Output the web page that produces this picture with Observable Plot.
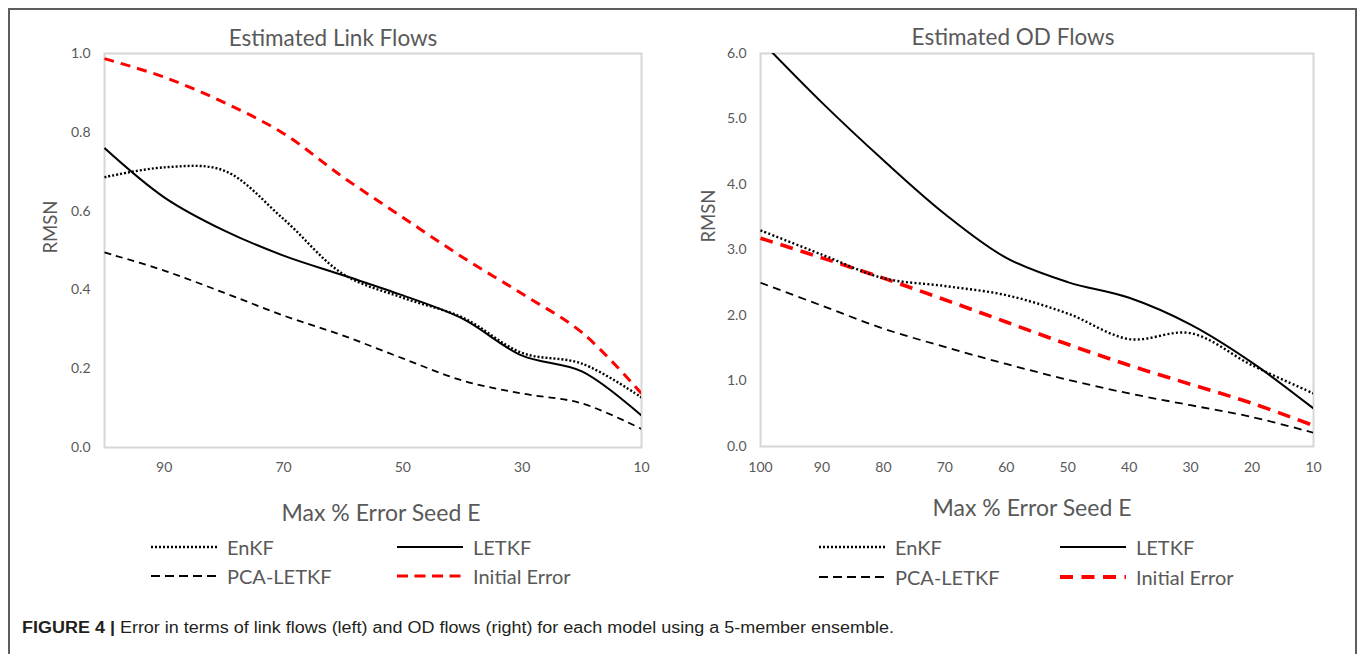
<!DOCTYPE html>
<html>
<head>
<meta charset="utf-8">
<script src="https://cdn.jsdelivr.net/npm/d3@7"></script>
<script src="https://cdn.jsdelivr.net/npm/@observablehq/plot@0.6"></script>
<style>
  html, body { margin: 0; padding: 0; background: #fff; }
  body { width: 1358px; height: 654px; position: relative; overflow: hidden; font-family: Lato, "Open Sans", sans-serif; }
  .box { position: absolute; left: 8px; top: 8px; width: 1345px; height: 700px; border-left: 2px solid #5e5e5e; border-top: 2px solid #5e5e5e; border-right: 2px solid #5e5e5e; }
  .abs { position: absolute; white-space: nowrap; color: #595959; font-family: Lato, sans-serif; }
  .panel { position: absolute; top: 0; }
  .caption { position: absolute; left: 22px; top: 620px; font-family: "Liberation Sans Narrow", "Liberation Sans", Arial, sans-serif; font-size: 16px; line-height: 16px; color: #231f20; white-space: nowrap; transform-origin: 0 0; }
</style>
</head>
<body>
<div class="box"></div>
<div id="left" class="panel" style="left:0px"></div>
<div id="right" class="panel" style="left:680px"></div>
<div id="overlay"></div>
<div class="caption" id="caption"><b>FIGURE 4 |</b> Error in terms of link flows (left) and OD flows (right) for each model using a 5-member ensemble.</div>
<script>
// ---------- data ----------
const seedLevels = [100, 90, 80, 70, 60, 50, 40, 30, 20, 10];
const seriesNames = ["EnKF", "LETKF", "PCA-LETKF", "Initial Error"];

// Estimated Link Flows (RMSN)
const linkEnKF    = [0.686, 0.711, 0.703, 0.580, 0.440, 0.380, 0.330, 0.240, 0.213, 0.127];
const linkLETKF   = [0.760, 0.635, 0.551, 0.487, 0.437, 0.386, 0.327, 0.233, 0.193, 0.081];
const linkPCA     = [0.495, 0.449, 0.393, 0.335, 0.284, 0.226, 0.170, 0.137, 0.112, 0.047];
const linkInitial = [0.987, 0.940, 0.876, 0.797, 0.686, 0.584, 0.483, 0.390, 0.292, 0.137];

// Estimated OD Flows (RMSN)
const odEnKF    = [3.30, 2.93, 2.57, 2.45, 2.31, 2.03, 1.64, 1.73, 1.24, 0.81];
const odLETKF   = [6.20, 5.25, 4.37, 3.55, 2.88, 2.51, 2.27, 1.86, 1.28, 0.58];
const odPCA     = [2.50, 2.15, 1.80, 1.52, 1.26, 1.02, 0.81, 0.63, 0.45, 0.21];
const odInitial = [3.18, 2.88, 2.57, 2.24, 1.90, 1.56, 1.24, 0.95, 0.66, 0.32];

const linkXTicks = [90, 70, 50, 30, 10];
const linkYTicks = [0, 0.2, 0.4, 0.6, 0.8, 1.0];
const odXTicks = [100, 90, 80, 70, 60, 50, 40, 30, 20, 10];
const odYTicks = [0, 1, 2, 3, 4, 5, 6];

const linkTitle = "Estimated Link Flows";
const odTitle = "Estimated OD Flows";
const xTitle = "Max % Error Seed E";
const yTitle = "RMSN";

// ---------- helpers ----------
function toRows(values) { return seedLevels.map((s, i) => ({ seed: s, v: values[i] })); }

function makePanel(opts) {
  const { width, mLeft, mRight, series, yDomain, xTicks, yTicks, yPad, xPad, styles } = opts;
  const marks = [Plot.frame({ stroke: "#d6d6d6", strokeWidth: 2 })];
  const order = [3, 2, 1, 0];
  for (const k of order) {
    marks.push(Plot.line(toRows(series[k]), {
      x: "seed", y: "v", curve: "catmull-rom", clip: true,
      stroke: styles[k].stroke, strokeWidth: styles[k].width,
      strokeDasharray: styles[k].dash, strokeLinecap: "butt"
    }));
  }
  return Plot.plot({
    width, height: 470,
    marginLeft: mLeft, marginRight: mRight, marginTop: 53, marginBottom: 470 - (opts.bottom),
    x: { domain: [100, 10], ticks: xTicks, tickSize: 0, tickPadding: xPad, label: null, tickFormat: d => String(d) },
    y: { domain: yDomain, ticks: yTicks, tickSize: 0, tickPadding: yPad, label: null, tickFormat: d3.format(".1f") },
    style: { fontFamily: "Lato, sans-serif", fontSize: "14px", color: "#595959", background: "transparent", overflow: "visible" },
    marks
  });
}

const leftStyles = [
  { stroke: "#000", width: 2.4, dash: "2,2" },
  { stroke: "#000", width: 2, dash: null },
  { stroke: "#000", width: 1.8, dash: "7,5" },
  { stroke: "#ff0000", width: 3, dash: "10,7" }
];
const rightStyles = [
  { stroke: "#000", width: 2.4, dash: "2,2.3" },
  { stroke: "#000", width: 2, dash: null },
  { stroke: "#000", width: 1.8, dash: "8,5.5" },
  { stroke: "#ff0000", width: 3.6, dash: "13,8" }
];

document.getElementById("left").appendChild(makePanel({
  width: 680, mLeft: 104, mRight: 39, bottom: 447,
  series: [linkEnKF, linkLETKF, linkPCA, linkInitial],
  yDomain: [0, 1], xTicks: linkXTicks, yTicks: linkYTicks, yPad: 14, xPad: 15, styles: leftStyles
}));
document.getElementById("right").appendChild(makePanel({
  width: 678, mLeft: 80, mRight: 45, bottom: 446,
  series: [odEnKF, odLETKF, odPCA, odInitial],
  yDomain: [0, 6], xTicks: odXTicks, yTicks: odYTicks, yPad: 14, xPad: 16, styles: rightStyles
}));

// ---------- texts & legends ----------
const overlay = document.getElementById("overlay");
function addText(txt, x, y, size, rotate) {
  const d = document.createElement("div");
  d.className = "abs";
  d.textContent = txt;
  d.style.left = x + "px"; d.style.top = y + "px";
  d.style.fontSize = size + "px";
  d.style.lineHeight = "1";
  d.style.transform = "translate(-50%, -50%)" + (rotate ? " rotate(-90deg)" : "");
  overlay.appendChild(d);
}
addText(linkTitle, 333, 38, 22.5);
addText(odTitle, 1013, 37, 22.5);
addText(yTitle, 50, 227, 18.5, true);
addText(yTitle, 708, 216, 18.5, true);
addText(xTitle, 381, 512, 23);
addText(xTitle, 1032, 507, 23);

function addLegend(x1, x2, y1, y2, styles, legendWidth) {
  const entries = [
    { k: 0, lx: x1, y: y1 }, { k: 1, lx: x2, y: y1 },
    { k: 2, lx: x1, y: y2 }, { k: 3, lx: x2, y: y2 }
  ];
  const svgNS = "http://www.w3.org/2000/svg";
  for (const e of entries) {
    const st = styles[e.k];
    const svg = document.createElementNS(svgNS, "svg");
    svg.setAttribute("width", legendWidth + 4);
    svg.setAttribute("height", 10);
    svg.style.position = "absolute";
    svg.style.left = e.lx + "px";
    svg.style.top = (e.y - 5) + "px";
    const ln = document.createElementNS(svgNS, "line");
    ln.setAttribute("x1", 0); ln.setAttribute("x2", legendWidth);
    ln.setAttribute("y1", 5); ln.setAttribute("y2", 5);
    ln.setAttribute("stroke", st.stroke);
    ln.setAttribute("stroke-width", st.width);
    if (st.dash) ln.setAttribute("stroke-dasharray", st.dash);
    svg.appendChild(ln);
    overlay.appendChild(svg);
    const t = document.createElement("div");
    t.className = "abs";
    t.textContent = seriesNames[e.k];
    t.style.left = (e.lx + legendWidth + 10) + "px";
    t.style.top = e.y + "px";
    t.style.fontSize = "20px";
    t.style.lineHeight = "1";
    t.style.transform = "translateY(-50%)";
    overlay.appendChild(t);
  }
}
addLegend(151, 397, 547, 576, [
  { stroke: "#000", width: 2.4, dash: "2,2" },
  { stroke: "#000", width: 2, dash: null },
  { stroke: "#000", width: 2, dash: "9,5" },
  { stroke: "#ff0000", width: 3, dash: "11,6.5" }
], 66);
addLegend(819, 1060, 547, 577, [
  { stroke: "#000", width: 2.4, dash: "2,2" },
  { stroke: "#000", width: 2, dash: null },
  { stroke: "#000", width: 2, dash: "9,5" },
  { stroke: "#ff0000", width: 4, dash: "13,8.5" }
], 66);

// fit caption width to reference
const cap = document.getElementById("caption");
const w = cap.getBoundingClientRect().width;
if (w > 0) cap.style.transform = "scaleX(" + (872 / w) + ")";
</script>
</body>
</html>
